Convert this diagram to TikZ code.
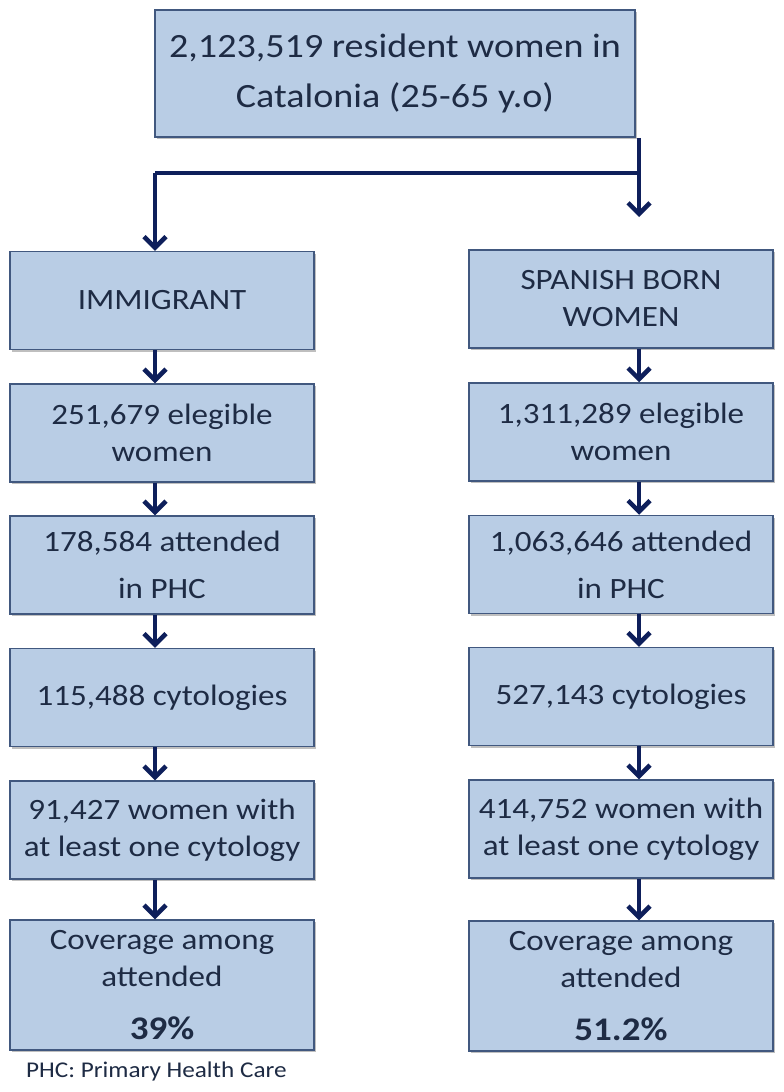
\documentclass[tikz,border=0pt]{standalone}
\usepackage{fontspec}
\setmainfont{Carlito}[FakeStretch=1.12]
\usetikzlibrary{arrows.meta,shadows}
\definecolor{boxfill}{HTML}{B9CDE5}
\definecolor{boxedge}{HTML}{41587F}
\definecolor{txt}{HTML}{1E2B44}
\definecolor{navy}{HTML}{0E1F5B}
\begin{document}
\begin{tikzpicture}[x=1pt,y=-1pt,
  box/.style={draw=boxedge, fill=boxfill, line width=1.5pt, inner sep=0pt, align=center,
    text=txt, minimum width=304pt, minimum height=98pt,
    drop shadow={shadow xshift=2pt,shadow yshift=-2pt,fill=black,opacity=0.25}},
  conn/.style={draw=navy, line width=4pt},
  arr/.style={conn, -{Straight Barb[length=11pt,width=22pt,line width=4.5pt]}},
  body/.style={font=\fontsize{29.5}{37}\selectfont},
  wide/.style={font=\fontsize{29.5}{47}\selectfont}]
\useasboundingbox[fill=white] (0,0) rectangle (784,1092);

% top
\node[box, minimum width=480pt, minimum height=127pt, font=\fontsize{34}{50}\selectfont]
  (top) at (395,73.5) {2,123,519 resident women in\\Catalonia (25-65 y.o)};

% left column
\node[box, body] (l1) at (162,300.5) {IMMIGRANT};
\node[box, body] (l2) at (162,433) {251,679 elegible\\women};
\node[box, wide] (l3) at (162,565) {178,584 attended\\in PHC};
\node[box, body] (l4) at (162,697.5) {115,488 cytologies};
\node[box, body] (l5) at (162,830) {91,427 women with\\at least one cytology};
\node[box, body, minimum height=130pt] (l6) at (162,985)
  {Coverage among\\attended\\[16pt]{\fontsize{33}{37}\selectfont\bfseries 39\%}};

% right column
\node[box, body] (r1) at (621,299) {SPANISH BORN\\WOMEN};
\node[box, body] (r2) at (621,432) {1,311,289 elegible\\women};
\node[box, wide] (r3) at (621,564.5) {1,063,646 attended\\in PHC};
\node[box, body] (r4) at (621,696.5) {527,143 cytologies};
\node[box, body] (r5) at (621,829) {414,752 women with\\at least one cytology};
\node[box, body, minimum height=130pt] (r6) at (621,986)
  {Coverage among\\attended\\[16pt]{\fontsize{33}{37}\selectfont\bfseries 51.2\%}};

\node[anchor=base west, inner sep=0pt, text=txt, font=\fontsize{22.5}{26}\selectfont]
  (note) at (26,1077) {PHC: Primary Health Care};

% connectors
\coordinate (xl) at (155,0);
\coordinate (xr) at (639,0);
\coordinate (jl) at (155,173);
\coordinate (jr) at (639,173);
\coordinate (rtip) at (639,217);
\draw[conn] (top.south -| jr) -- (jr) -- (jl);
\draw[arr] (jl) -- (l1.north -| xl);
\draw[arr] (jr) -- (rtip);

\foreach \a/\b in {l1/l2,l2/l3,l3/l4,l4/l5,l5/l6}
  \draw[arr] (\a.south -| xl) -- (\b.north -| xl);
\foreach \a/\b in {r1/r2,r2/r3,r3/r4,r4/r5,r5/r6}
  \draw[arr] (\a.south -| xr) -- (\b.north -| xr);
\end{tikzpicture}
\end{document}
